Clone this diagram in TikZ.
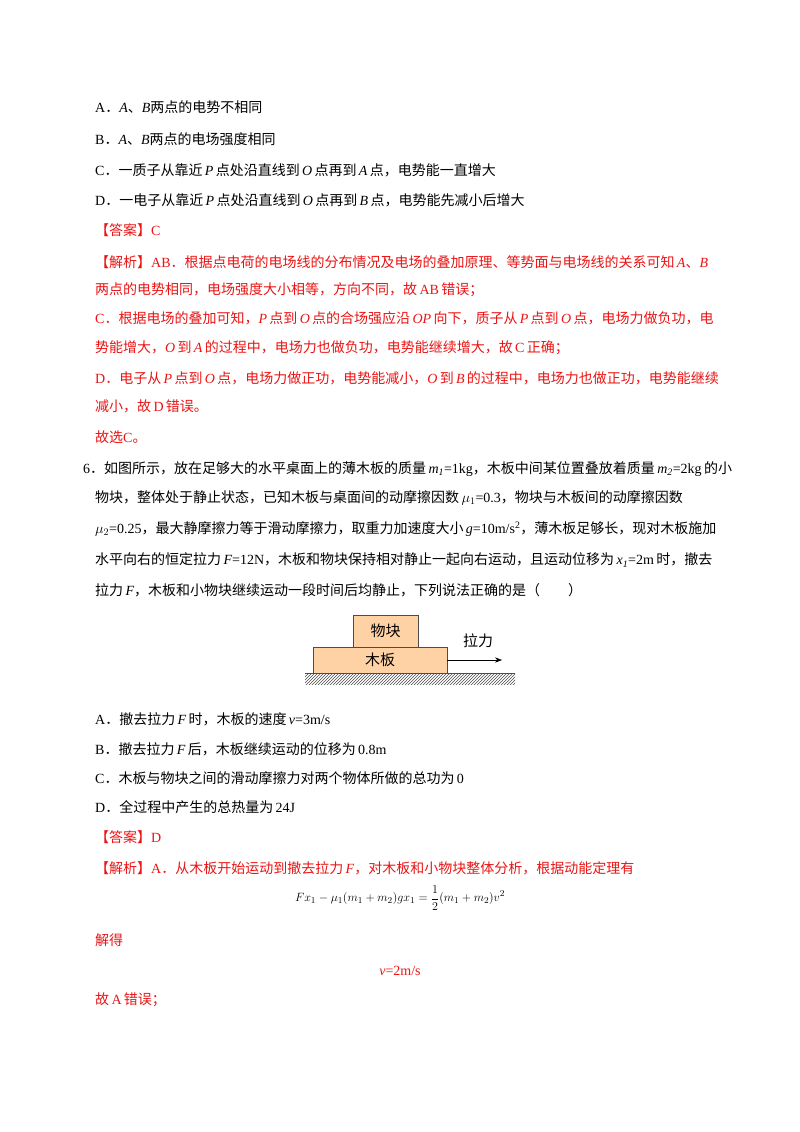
\documentclass[tikz,border=0pt]{standalone}
\usepackage{fontspec}
\setmainfont{Liberation Serif}
\newfontfamily\cjk{Noto Sans CJK SC}
\usetikzlibrary{patterns,arrows.meta}
\definecolor{ansred}{RGB}{235,20,20}
\XeTeXinterchartokenstate=1
\newXeTeXintercharclass\cjkcls
\count255="3000 \loop\XeTeXcharclass\count255=\cjkcls \ifnum\count255<"303F \advance\count255 1 \repeat
\count255="4E00 \loop\XeTeXcharclass\count255=\cjkcls \ifnum\count255<"9FFF \advance\count255 1 \repeat
\count255="FF00 \loop\XeTeXcharclass\count255=\cjkcls \ifnum\count255<"FFEF \advance\count255 1 \repeat
\XeTeXinterchartoks 0 \cjkcls = {\cjk}
\XeTeXinterchartoks 4095 \cjkcls = {\cjk}
\XeTeXinterchartoks \cjkcls 0 = {\rmfamily}
\XeTeXinterchartoks 4095 0 = {\rmfamily}
\begin{document}
\begin{tikzpicture}[x=1pt,y=-1pt,
  ln/.style={anchor=west,inner sep=0pt,font=\fontsize{14}{14}\selectfont},
  red/.style={ln,text=ansred},
  box/.style={draw=black!70,fill=orange!35!white,line width=0.6pt,inner sep=0pt}]
\useasboundingbox (0,0) rectangle (800,1132);
\fill[white] (0,0) rectangle (800,1132);
\node[ln] (a1) at (95,107) {A．\textit{A}、\textit{B}两点的电势不相同};
\node[ln] (a2) at (95,139) {B．\textit{A}、\textit{B}两点的电场强度相同};
\node[ln] (a3) at (95,170) {C．一质子从靠近\,\textit{P}\,点处沿直线到\,\textit{O}\,点再到\,\textit{A}\,点，电势能一直增大};
\node[ln] (a4) at (95,200) {D．一电子从靠近\,\textit{P}\,点处沿直线到\,\textit{O}\,点再到\,\textit{B}\,点，电势能先减小后增大};
\node[red] (a5) at (95,230) {【答案】C};
\node[red] (a6) at (95,262) {【解析】AB．根据点电荷的电场线的分布情况及电场的叠加原理、等势面与电场线的关系可知\,\textit{A}、\textit{B}};
\node[red] (a7) at (95,290) {两点的电势相同，电场强度大小相等，方向不同，故\,AB\,错误；};
\node[red] (a8) at (95,318) {C．根据电场的叠加可知，\textit{P}\,点到\,\textit{O}\,点的合场强应沿\,\textit{OP}\,向下，质子从\,\textit{P}\,点到\,\textit{O}\,点，电场力做负功，电};
\node[red] (a9) at (95,348) {势能增大，\textit{O}\,到\,\textit{A}\,的过程中，电场力也做负功，电势能继续增大，故\,C\,正确；};
\node[red] (a10) at (95,378) {D．电子从\,\textit{P}\,点到\,\textit{O}\,点，电场力做正功，电势能减小，\textit{O}\,到\,\textit{B}\,的过程中，电场力也做正功，电势能继续};
\node[red] (a11) at (95,406) {减小，故\,D\,错误。};
\node[red] (a12) at (95,437) {故选C。};
\node[ln] (q1) at (83,469) {6．如图所示，放在足够大的水平桌面上的薄木板的质量\,\textit{m\textsubscript{1}}=1kg，木板中间某位置叠放着质量\,\textit{m\textsubscript{2}}=2kg\,的小};
\node[ln] (q2) at (95,498) {物块，整体处于静止状态，已知木板与桌面间的动摩擦因数\,$\mu_1$=0.3，物块与木板间的动摩擦因数};
\node[ln] (q3) at (95,529) {$\mu_2$=0.25，最大静摩擦力等于滑动摩擦力，取重力加速度大小\,\textit{g}=10m/s\textsuperscript{2}，薄木板足够长，现对木板施加};
\node[ln] (q4) at (95,560) {水平向右的恒定拉力\,\textit{F}=12N，木板和物块保持相对静止一起向右运动，且运动位移为\,\textit{x\textsubscript{1}}=2m\,时，撤去};
\node[ln] (q5) at (95,590) {拉力\,\textit{F}，木板和小物块继续运动一段时间后均静止，下列说法正确的是（\qquad）};
% diagram
\fill[pattern=north east lines,pattern color=black!70] (305,673) rectangle (515,684);
\draw[black!70,line width=0.6pt] (305,673) -- (515,673);
\node[box,minimum width=65pt,minimum height=32pt] (blk) at (385.5,631) {\fontsize{15}{15}\selectfont 物块};
\node[box,minimum width=134pt,minimum height=26pt] (brd) at (380,660) {\fontsize{15}{15}\selectfont 木板};
\coordinate (tip) at (502,660);
\draw[-{Stealth[length=7pt]},line width=0.6pt] (brd.east) -- (tip);
\node[inner sep=0pt,font=\fontsize{15}{15}\selectfont] (lali) at (478,641) {拉力};
\node[ln] (o1) at (95,719) {A．撤去拉力\,\textit{F}\,时，木板的速度\,\textit{v}=3m/s};
\node[ln] (o2) at (95,749) {B．撤去拉力\,\textit{F}\,后，木板继续运动的位移为\,0.8m};
\node[ln] (o3) at (95,778) {C．木板与物块之间的滑动摩擦力对两个物体所做的总功为\,0};
\node[ln] (o4) at (95,807) {D．全过程中产生的总热量为\,24J};
\node[red] (s1) at (95,837) {【答案】D};
\node[red] (s2) at (95,868) {【解析】A．从木板开始运动到撤去拉力\,\textit{F}，对木板和小物块整体分析，根据动能定理有};
\node[inner sep=0pt,font=\fontsize{13}{13}\selectfont] (f1) at (400,898) {$Fx_1-\mu_1(m_1+m_2)gx_1=\displaystyle\frac{1}{2}(m_1+m_2)v^2$};
\node[red] (s3) at (95,940) {解得};
\node[inner sep=0pt,text=ansred,font=\fontsize{14}{14}\selectfont] (s4) at (400,971) {\textit{v}=2m/s};
\node[red] (s5) at (95,1000) {故\,A\,错误；};
\end{tikzpicture}
\end{document}
